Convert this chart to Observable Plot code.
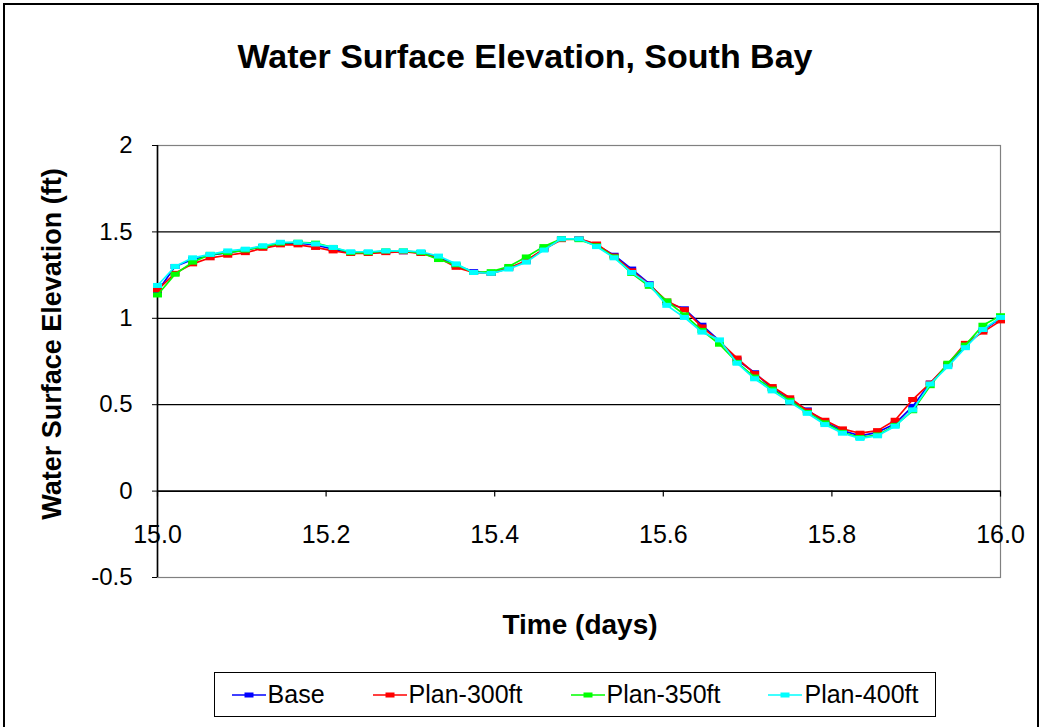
<!DOCTYPE html>
<html><head><meta charset="utf-8">
<script src="https://cdn.jsdelivr.net/npm/d3@7"></script>
<script src="https://cdn.jsdelivr.net/npm/@observablehq/plot@0.6"></script>
<style>
body{margin:0;background:#fff;font-family:"Liberation Sans",Arial,sans-serif;}
#wrap{position:relative;width:1042px;height:727px;overflow:hidden;background:#fff;}
#frame{position:absolute;left:3px;top:3px;width:1032px;height:740px;border:2px solid #000;}
#title{position:absolute;left:0;width:1050px;top:36px;text-align:center;font-weight:bold;font-size:34px;line-height:40px;}
#chart{position:absolute;left:0;top:100px;}
#ylab{position:absolute;left:52px;top:344px;transform:translate(-50%,-50%) rotate(-90deg);white-space:nowrap;font-weight:bold;font-size:27px;}
#xlab{position:absolute;left:0;width:1160px;top:608px;text-align:center;font-weight:bold;font-size:28px;line-height:34px;}
#legend{position:absolute;left:214px;top:672px;width:720px;height:43px;border:1px solid #000;display:flex;align-items:center;justify-content:center;gap:48px;font-size:25px;}
.item{display:flex;align-items:center;}
.item svg{margin-right:2px;}
</style>
</head><body>
<div id="wrap">
<div id="frame"></div>
<div id="title">Water Surface Elevation, South Bay</div>
<div id="chart"></div>
<div id="ylab">Water Surface Elevation (ft)</div>
<div id="xlab">Time (days)</div>
<div id="legend"></div>
</div>
<script>
// Time: half-hourly samples from day 15.0 to 16.0
const times = d3.range(49).map(i => 15 + i / 48);

const seriesNames = ["Base", "Plan-300ft", "Plan-350ft", "Plan-400ft"];
const seriesColors = ["#0000FF", "#FF0000", "#00FF00", "#00FFFF"];

const base = [1.155,1.30,1.34,1.365,1.38,1.395,1.415,1.435,1.435,1.425,1.40,1.38,1.38,1.385,1.385,1.38,1.355,1.305,1.27,1.26,1.29,1.33,1.40,1.46,1.46,1.425,1.365,1.285,1.20,1.09,1.055,0.96,0.87,0.76,0.685,0.595,0.53,0.47,0.40,0.35,0.32,0.34,0.39,0.49,0.625,0.73,0.84,0.93,1.0];
const plan300 = [1.165,1.26,1.315,1.35,1.365,1.38,1.405,1.425,1.425,1.41,1.39,1.375,1.375,1.38,1.385,1.375,1.35,1.295,1.265,1.26,1.29,1.335,1.40,1.455,1.46,1.43,1.36,1.275,1.195,1.10,1.05,0.95,0.865,0.77,0.68,0.605,0.54,0.465,0.41,0.36,0.335,0.35,0.41,0.53,0.625,0.735,0.855,0.92,0.985];
const plan350 = [1.135,1.255,1.325,1.37,1.38,1.395,1.415,1.435,1.44,1.435,1.41,1.38,1.38,1.39,1.39,1.38,1.34,1.31,1.265,1.27,1.30,1.355,1.415,1.46,1.455,1.42,1.355,1.26,1.185,1.10,1.02,0.93,0.85,0.745,0.66,0.59,0.525,0.455,0.395,0.34,0.31,0.325,0.38,0.465,0.61,0.74,0.845,0.96,1.015];
const plan400 = [1.19,1.30,1.35,1.37,1.39,1.40,1.42,1.44,1.44,1.43,1.41,1.385,1.385,1.39,1.39,1.385,1.36,1.315,1.265,1.26,1.285,1.325,1.395,1.46,1.46,1.415,1.35,1.265,1.195,1.075,1.005,0.92,0.875,0.74,0.65,0.58,0.515,0.45,0.385,0.335,0.305,0.32,0.375,0.47,0.62,0.72,0.83,0.935,1.005];
const seriesValues = [base, plan300, plan350, plan400];

const xTickValues = [15.0, 15.2, 15.4, 15.6, 15.8, 16.0];
const xTickLabels = ["15.0", "15.2", "15.4", "15.6", "15.8", "16.0"];
const yTickValues = [-0.5, 0, 0.5, 1, 1.5, 2];
const yTickLabels = ["-0.5", "0", "0.5", "1", "1.5", "2"];
const gridValues = [0.5, 1, 1.5];

const rows = seriesNames.flatMap((name, s) => seriesValues[s].map((v, i) => ({series: name, t: times[i], v})));

const rectSymbol = {draw(ctx) { ctx.rect(-4.5, -2.5, 9, 5); }};

const seriesMarks = seriesNames.flatMap((name, s) => {
  const d = rows.filter(r => r.series === name);
  return [
    Plot.line(d, {x: "t", y: "v", stroke: seriesColors[s], strokeWidth: 1.7}),
    Plot.dot(d, {x: "t", y: "v", fill: seriesColors[s], stroke: "none", symbol: rectSymbol, r: 3})
  ];
});

const chart = Plot.plot({
  width: 1042,
  height: 560,
  marginTop: 45,
  marginLeft: 157,
  marginRight: 42,
  marginBottom: 83,
  style: {fontFamily: "'Liberation Sans', Arial, sans-serif", color: "#000", background: "transparent"},
  x: {domain: [15, 16], axis: null},
  y: {domain: [-0.5, 2], axis: null},
  marks: [
    Plot.frame({stroke: "#808080", strokeWidth: 1.2}),
    Plot.ruleY(gridValues, {stroke: "#000", strokeWidth: 1.3}),
    Plot.ruleY([0], {stroke: "#000", strokeWidth: 1.6}),
    Plot.ruleX([15], {stroke: "#000", strokeWidth: 1.6}),
    Plot.axisY(yTickValues, {label: null, tickFormat: (d) => yTickLabels[yTickValues.indexOf(d)], tickSize: 5, tickPadding: 20, fontSize: 24, stroke: "#000"}),
    Plot.ruleX(xTickValues, {x: d => d, y1: 0, y2: 0, insetBottom: -6, stroke: "#000", strokeWidth: 1.2}),
    Plot.text(xTickValues, {x: d => d, y: 0, dy: 44, text: (d, i) => xTickLabels[i], fontSize: 25, fill: "#000"}),
    ...seriesMarks
  ]
});
document.getElementById("chart").appendChild(chart);

// Legend
const legend = document.getElementById("legend");
seriesNames.forEach((name, s) => {
  const item = document.createElement("div");
  item.className = "item";
  item.innerHTML = `<svg width="34" height="10"><line x1="0" y1="5" x2="34" y2="5" stroke="${seriesColors[s]}" stroke-width="1.7"/><rect x="12.5" y="2.5" width="9" height="5" fill="${seriesColors[s]}"/></svg><span>${name}</span>`;
  legend.appendChild(item);
});
</script>
</body></html>
